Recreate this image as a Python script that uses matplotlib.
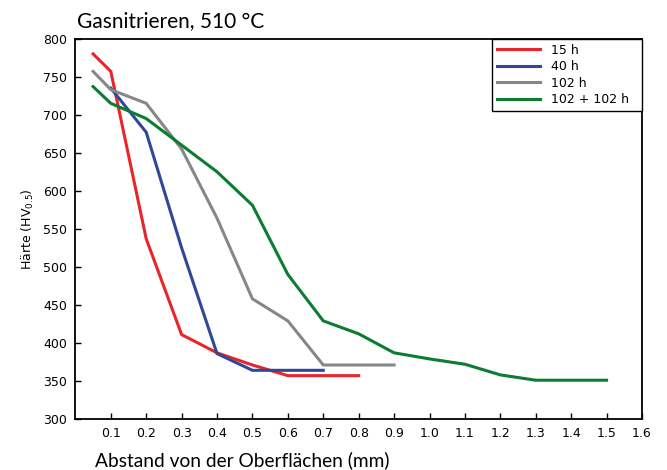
import matplotlib.pyplot as plt

# Abstand (mm) / Härte (HV0.5)
x_15 = [0.05, 0.1, 0.2, 0.3, 0.4, 0.5, 0.6, 0.8]
y_15 = [780, 757, 537, 411, 387, 371, 357, 357]

x_40 = [0.1, 0.2, 0.3, 0.4, 0.5, 0.7]
y_40 = [735, 677, 525, 386, 364, 364]

x_102 = [0.05, 0.1, 0.2, 0.3, 0.4, 0.5, 0.6, 0.7, 0.9]
y_102 = [757, 733, 715, 655, 564, 458, 429, 371, 371]

x_204 = [0.05, 0.1, 0.2, 0.3, 0.4, 0.5, 0.6, 0.7, 0.8, 0.9, 1.0, 1.1, 1.2, 1.3, 1.5]
y_204 = [737, 715, 695, 660, 625, 581, 490, 429, 412, 387, 379, 372, 358, 351, 351]

series = [
    (x_15, y_15, '15 h', '#e8252b'),
    (x_40, y_40, '40 h', '#2f4897'),
    (x_102, y_102, '102 h', '#878787'),
    (x_204, y_204, '102 + 102 h', '#0b7d30'),
]

xticks = [0.1, 0.2, 0.3, 0.4, 0.5, 0.6, 0.7, 0.8, 0.9, 1.0, 1.1, 1.2, 1.3, 1.4, 1.5, 1.6]
yticks = [300, 350, 400, 450, 500, 550, 600, 650, 700, 750, 800]

plt.rcParams['font.family'] = ['DejaVu Sans']
plt.rcParams['mathtext.fontset'] = 'dejavusans'

fig = plt.figure(figsize=(6.67, 4.7), dpi=100)
ax = fig.add_axes([0.1130, 0.1085, 0.8495, 0.8092])

for xs, ys, lab, col in series:
    # trailing blanks widen the legend box like the original
    ax.plot(xs, ys, color=col, lw=2.2, label=lab + '  ', solid_joinstyle='miter')

ax.set_xlim(0, 1.6)
ax.set_ylim(300, 800)
ax.set_xticks(xticks)
ax.set_xticklabels(['%.1f' % t for t in xticks])
ax.set_yticks(yticks)
ax.tick_params(direction='in', length=4, width=1, labelsize=9, pad=6, colors='black')
for s in ax.spines.values():
    s.set_linewidth(1.3)

ax.set_ylabel('Härte (HV$_{0.5}$)', fontsize=9, labelpad=5)
fig.text(0.1155, 0.955, 'Gasnitrieren, 510 °C', fontsize=15, family='Lato', ha='left', va='center')
fig.text(0.142, 0.02, 'Abstand von der Oberflächen (mm)', fontsize=13.8, family='Lato', ha='left', va='center')

leg = ax.legend(loc='upper right', bbox_to_anchor=(1.0, 1.0), borderaxespad=0, fontsize=9,
                handlelength=3.5, handletextpad=0.85, labelspacing=0.28, fancybox=False,
                edgecolor='black', framealpha=1, borderpad=0.4)
leg.get_frame().set_linewidth(1.0)

fig.savefig('out.png', dpi=100)
